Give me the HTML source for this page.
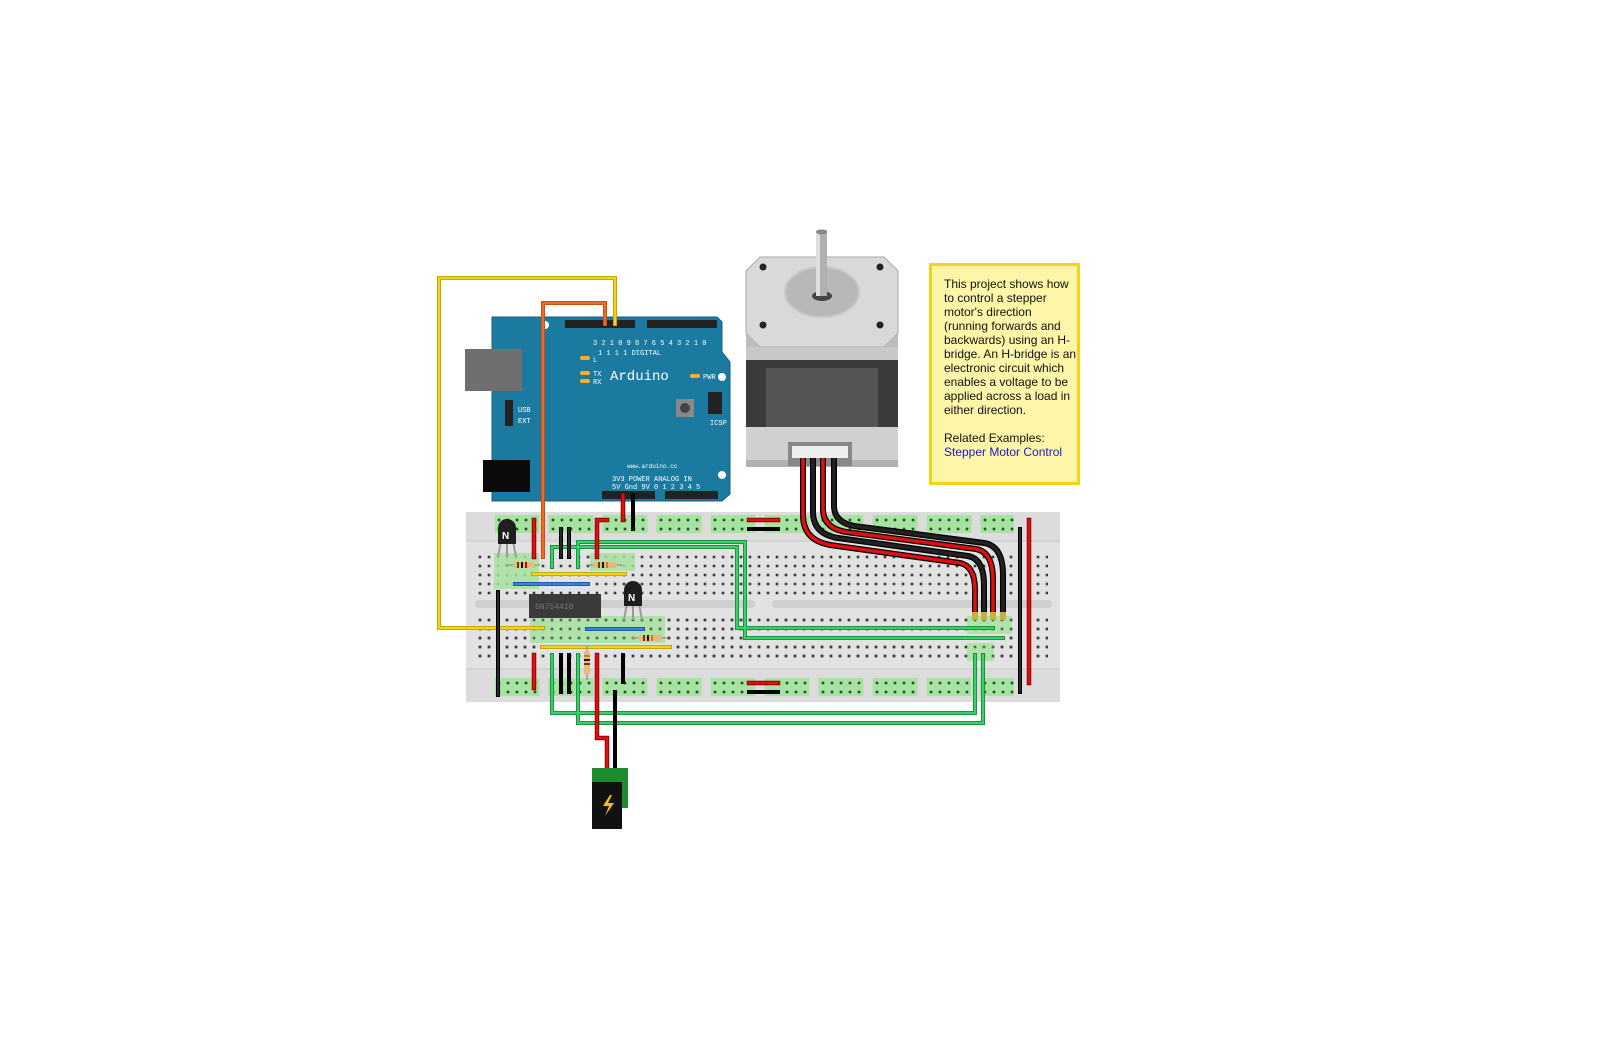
<!DOCTYPE html>
<html><head><meta charset="utf-8"><style>
html,body{margin:0;padding:0;background:#fff;}
svg{display:block;}
.t{font-family:"Liberation Sans",sans-serif;font-size:12px;fill:#111;}
.m{font-family:"Liberation Mono",monospace;fill:#fff;}
</style></head><body>
<svg width="1604" height="1051" viewBox="0 0 1604 1051" xmlns="http://www.w3.org/2000/svg">
<defs>
<pattern id="holes" patternUnits="userSpaceOnUse" x="475.5" y="552.5" width="9" height="9">
<rect x="3.2" y="3.2" width="2.6" height="2.6" fill="#3a3a3a"/></pattern>
<pattern id="rail" patternUnits="userSpaceOnUse" x="494.5" y="515.5" width="54" height="9">
<rect x="0" y="0" width="45" height="9" fill="#a6e3a0"/>
<rect x="3.2" y="3.2" width="2.6" height="2.6" fill="#2d4d2d"/><rect x="12.2" y="3.2" width="2.6" height="2.6" fill="#2d4d2d"/><rect x="21.2" y="3.2" width="2.6" height="2.6" fill="#2d4d2d"/><rect x="30.2" y="3.2" width="2.6" height="2.6" fill="#2d4d2d"/><rect x="39.2" y="3.2" width="2.6" height="2.6" fill="#2d4d2d"/></pattern>
<pattern id="rail2" patternUnits="userSpaceOnUse" x="494.5" y="678.5" width="54" height="9">
<rect x="0" y="0" width="45" height="9" fill="#a6e3a0"/>
<rect x="3.2" y="3.2" width="2.6" height="2.6" fill="#2d4d2d"/><rect x="12.2" y="3.2" width="2.6" height="2.6" fill="#2d4d2d"/><rect x="21.2" y="3.2" width="2.6" height="2.6" fill="#2d4d2d"/><rect x="30.2" y="3.2" width="2.6" height="2.6" fill="#2d4d2d"/><rect x="39.2" y="3.2" width="2.6" height="2.6" fill="#2d4d2d"/></pattern>
</defs>

<!-- Arduino -->
<path d="M492 317 H717 L722 322 V352 L730 362 V494 L722 501 H492 Z" fill="#1a7aa0" stroke="#11607f" stroke-width="1"/>
<rect x="465" y="349" width="57" height="42" fill="#6f6f6f"/>
<rect x="483" y="460" width="47" height="32" fill="#0a0a0a"/>
<rect x="565" y="320" width="70" height="8" fill="#222"/>
<rect x="647" y="320" width="70" height="8" fill="#222"/>
<rect x="602" y="491" width="53" height="8" fill="#222"/>
<rect x="665" y="491" width="53" height="8" fill="#222"/>
<rect x="505" y="400" width="8" height="26" fill="#222"/>
<rect x="676" y="399" width="18" height="18" fill="#888"/><circle cx="685" cy="408" r="5" fill="#444"/>
<rect x="708" y="392" width="14" height="22" fill="#222"/>
<circle cx="722" cy="377" r="4" fill="#fff"/><circle cx="722" cy="475" r="4" fill="#fff"/><circle cx="545" cy="325" r="4" fill="#fff"/>
<rect x="580" y="356" width="10" height="4" rx="2" fill="#f0b030"/>
<rect x="580" y="371" width="10" height="4" rx="2" fill="#f0b030"/>
<rect x="580" y="379" width="10" height="4" rx="2" fill="#f0b030"/>
<rect x="690" y="374" width="10" height="4" rx="2" fill="#f0b030"/>
<text class="m" x="610" y="380" font-size="14">Arduino</text>
<text class="m" x="593" y="345" font-size="7">3 2 1 0 9 8  7 6 5 4 3 2 1 0</text>
<text class="m" x="598" y="355" font-size="7">1 1 1 1  DIGITAL</text>
<text class="m" x="593" y="362" font-size="7">L</text>
<text class="m" x="593" y="376" font-size="7">TX</text><text class="m" x="593" y="384" font-size="7">RX</text>
<text class="m" x="703" y="379" font-size="7">PWR</text>
<text class="m" x="710" y="425" font-size="7">ICSP</text>
<text class="m" x="518" y="412" font-size="7">USB</text><text class="m" x="518" y="423" font-size="7">EXT</text>
<text class="m" x="627" y="468" font-size="6">www.arduino.cc</text>
<text class="m" x="612" y="481" font-size="7">3V3 POWER  ANALOG IN</text>
<text class="m" x="612" y="489" font-size="7">5V Gnd 9V 0 1 2 3 4 5</text>

<!-- Breadboard -->
<rect x="466" y="512" width="594" height="190" fill="#dcdcdc"/>
<rect x="466" y="541" width="594" height="128" fill="#e2e2e2"/>
<line x1="466" y1="541" x2="1060" y2="541" stroke="#c8c8c8"/>
<line x1="466" y1="669" x2="1060" y2="669" stroke="#c8c8c8"/>
<rect x="475" y="600" width="280" height="8" rx="4" fill="#cfcfcf"/>
<rect x="772" y="600" width="280" height="8" rx="4" fill="#cfcfcf"/>
<rect x="494" y="515" width="520" height="18" fill="url(#rail)"/>
<rect x="494" y="678" width="520" height="18" fill="url(#rail2)"/>
<rect x="476" y="553" width="572" height="45" fill="url(#holes)"/>
<rect x="476" y="616" width="572" height="45" fill="url(#holes)"/>
<!-- green highlights -->
<g fill="#a6e3a0" opacity="0.85">
<rect x="494" y="553" width="45" height="36"/><rect x="530" y="616" width="135" height="27"/>
<rect x="590" y="553" width="45" height="18"/><rect x="620" y="616" width="45" height="18"/>
<rect x="967" y="616" width="45" height="18"/><rect x="967" y="643" width="27" height="18"/>
</g>
<rect x="476" y="616" width="572" height="45" fill="url(#holes)" opacity="0.7"/>

<!-- IC -->
<rect x="529" y="594" width="72" height="24" fill="#3a3a3a"/>
<text x="535" y="609" font-family="Liberation Mono,monospace" font-size="8" fill="#777">SN754410</text>

<g fill="none" stroke-linecap="square">
<!-- yellow long loop -->
<path d="M615 324 V278 H439 V628 H543" stroke="#b89a00" stroke-width="4"/>
<path d="M615 324 V278 H439 V628 H543" stroke="#f5d21c" stroke-width="2.4"/>
<!-- orange -->
<path d="M605 324 V303 H543 V557" stroke="#b84a10" stroke-width="4"/>
<path d="M605 324 V303 H543 V557" stroke="#f26a22" stroke-width="2.4"/>
<!-- green wires -->
<g stroke="#1a8a3a" stroke-width="4">
<path d="M552 567 V547 H737 V628 H993"/><path d="M578 567 V542 H745 V638 H1003"/>
<path d="M552 655 V713 H975 V655"/><path d="M578 655 V723 H983 V655"/></g>
<g stroke="#38d26a" stroke-width="2.2">
<path d="M552 567 V547 H737 V628 H993"/><path d="M578 567 V542 H745 V638 H1003"/>
<path d="M552 655 V713 H975 V655"/><path d="M578 655 V723 H983 V655"/></g>
<!-- yellow short -->
<g stroke="#b89a00" stroke-width="4"><path d="M533 574 H625"/><path d="M542 647 H670"/></g>
<g stroke="#f5d21c" stroke-width="2.4"><path d="M533 574 H625"/><path d="M542 647 H670"/></g>
<!-- blue -->
<g stroke="#1c4d9a" stroke-width="4"><path d="M515 584 H588"/><path d="M587 629 H643"/></g>
<g stroke="#3b82e0" stroke-width="2.4"><path d="M515 584 H588"/><path d="M587 629 H643"/></g>
<!-- red -->
<g stroke="#7a0000" stroke-width="4.5">
<path d="M534 520 V557"/><path d="M597 557 V520 H607"/><path d="M623 495 V520"/><path d="M534 655 V688"/>
<path d="M597 655 V738 H607 V767"/><path d="M749 520 H778"/><path d="M749 683 H778"/><path d="M1029 520 V683"/></g>
<g stroke="#e01010" stroke-width="2.8">
<path d="M534 520 V557"/><path d="M597 557 V520 H607"/><path d="M623 495 V520"/><path d="M534 655 V688"/>
<path d="M597 655 V738 H607 V767"/><path d="M749 520 H778"/><path d="M749 683 H778"/><path d="M1029 520 V683"/></g>
<!-- black -->
<g stroke="#000" stroke-width="4">
<path d="M561 529 V557"/><path d="M569 529 V557"/><path d="M633 495 V529"/><path d="M498 592 V695"/>
<path d="M561 655 V692"/><path d="M569 655 V692"/><path d="M623 655 V682"/><path d="M615 692 V767"/>
<path d="M749 529 H778"/><path d="M749 692 H778"/><path d="M1020 529 V692"/></g>
<g stroke="#333" stroke-width="1.6">
<path d="M561 529 V557"/><path d="M569 529 V557"/><path d="M498 592 V695"/><path d="M1020 529 V692"/></g>
</g>

<!-- resistors -->
<g>
<line x1="505" y1="565" x2="540" y2="565" stroke="#999" stroke-width="1.5"/>
<rect x="513" y="562" width="22" height="6" rx="3" fill="#e8b880"/>
<rect x="517" y="562" width="2" height="6" fill="#6b3a10"/><rect x="521" y="562" width="2" height="6" fill="#111"/><rect x="525" y="562" width="2" height="6" fill="#d00"/>
<line x1="588" y1="565" x2="622" y2="565" stroke="#999" stroke-width="1.5"/>
<rect x="593" y="562" width="24" height="6" rx="3" fill="#e8b880"/>
<rect x="598" y="562" width="2" height="6" fill="#6b3a10"/><rect x="602" y="562" width="2" height="6" fill="#111"/><rect x="606" y="562" width="2" height="6" fill="#d08000"/>
<line x1="632" y1="638" x2="668" y2="638" stroke="#999" stroke-width="1.5"/>
<rect x="638" y="635" width="24" height="6" rx="3" fill="#e8b880"/>
<rect x="643" y="635" width="2" height="6" fill="#6b3a10"/><rect x="647" y="635" width="2" height="6" fill="#111"/><rect x="651" y="635" width="2" height="6" fill="#d08000"/>
<line x1="587" y1="646" x2="587" y2="680" stroke="#999" stroke-width="1.5"/>
<rect x="584" y="650" width="6" height="25" rx="3" fill="#e8b880"/>
<rect x="584" y="655" width="6" height="2" fill="#d08000"/><rect x="584" y="659" width="6" height="2" fill="#111"/><rect x="584" y="663" width="6" height="2" fill="#6b3a10"/>
</g>

<!-- transistors -->
<g>
<path d="M501 541 L498 557 M507 541 V557 M513 541 L516 557" stroke="#9a9a9a" stroke-width="2" fill="none"/>
<path d="M498 544 V528 A9 9 0 0 1 516 528 V544 Z" fill="#1e1e1e"/>
<text x="502" y="539" font-family="Liberation Sans,sans-serif" font-weight="bold" font-size="10" fill="#fff">N</text>
<path d="M627 603 L624 620 M633 603 V620 M639 603 L642 620" stroke="#9a9a9a" stroke-width="2" fill="none"/>
<path d="M624 606 V590 A9 9 0 0 1 642 590 V606 Z" fill="#1e1e1e"/>
<text x="628" y="601" font-family="Liberation Sans,sans-serif" font-weight="bold" font-size="10" fill="#fff">N</text>
</g>

<!-- Motor -->
<g>
<path d="M760 257 H884 L898 271 V333 L884 347 H760 L746 333 V271 Z" fill="#d9d9d9" stroke="#aaa"/>
<path d="M746 333 L760 347 H884 L898 333 V350 H746 Z" fill="#bdbdbd"/>
<rect x="746" y="347" width="152" height="120" fill="#c8c8c8"/>
<rect x="746" y="360" width="152" height="67" fill="#3a3a3a"/>
<rect x="766" y="368" width="112" height="59" fill="#555"/>
<rect x="746" y="427" width="152" height="40" fill="#d0d0d0"/>
<rect x="746" y="460" width="152" height="7" fill="#b0b0b0"/>
<ellipse cx="822" cy="292" rx="37" ry="25" fill="#b8b8b8" stroke="#c8c8c8" stroke-width="2"/>
<ellipse cx="822" cy="296" rx="10" ry="5" fill="#444"/>
<rect x="816" y="230" width="11" height="66" fill="#b0b0b0"/>
<rect x="816" y="230" width="4" height="66" fill="#ddd"/>
<ellipse cx="821.5" cy="232" rx="5.5" ry="2.5" fill="#888"/>
<circle cx="763" cy="267" r="3.5" fill="#222"/><circle cx="880" cy="267" r="3.5" fill="#222"/>
<circle cx="763" cy="325" r="3.5" fill="#222"/><circle cx="880" cy="325" r="3.5" fill="#222"/>
<rect x="788" y="442" width="64" height="24" fill="#888"/>
<rect x="792" y="446" width="56" height="12" fill="#eee"/>
</g>
<!-- motor wires -->
<g fill="none">
<path d="M803 458 V515 Q803 540 830 545 L960 563 Q975 566 975 590 V616" stroke="#000" stroke-width="6"/>
<path d="M803 458 V515 Q803 540 830 545 L960 563 Q975 566 975 590 V616" stroke="#e01010" stroke-width="3.5"/>
<path d="M813 458 V512 Q813 534 838 538 L968 556 Q984 559 984 585 V616" stroke="#000" stroke-width="6"/>
<path d="M813 458 V512 Q813 534 838 538 L968 556 Q984 559 984 585 V616" stroke="#222" stroke-width="3.5"/>
<path d="M823 458 V509 Q823 528 846 532 L976 549 Q993 552 993 580 V616" stroke="#000" stroke-width="6"/>
<path d="M823 458 V509 Q823 528 846 532 L976 549 Q993 552 993 580 V616" stroke="#e01010" stroke-width="3.5"/>
<path d="M834 458 V506 Q834 522 854 526 L984 543 Q1003 546 1003 575 V616" stroke="#000" stroke-width="6"/>
<path d="M834 458 V506 Q834 522 854 526 L984 543 Q1003 546 1003 575 V616" stroke="#222" stroke-width="3.5"/>
</g>
<g fill="#c8b040"><rect x="972" y="612" width="6" height="8"/><rect x="981" y="612" width="6" height="8"/><rect x="990" y="612" width="6" height="8"/><rect x="1000" y="612" width="6" height="8"/></g>

<!-- power jack -->
<rect x="592" y="768" width="36" height="40" fill="#1f8a2e"/>
<rect x="592" y="782" width="30" height="47" fill="#111"/>
<path d="M610 795 L603 806 H609 L605 816 L614 803 H608 L612 795 Z" fill="#f0c020"/>

<!-- Text box -->
<rect x="930.5" y="264.5" width="148" height="219" fill="#fdf6a8" stroke="#f2d21a" stroke-width="3"/>
<text class="t">
<tspan x="944" y="288">This project shows how</tspan>
<tspan x="944" y="302">to control a stepper</tspan>
<tspan x="944" y="316">motor's direction</tspan>
<tspan x="944" y="330">(running forwards and</tspan>
<tspan x="944" y="344">backwards) using an H-</tspan>
<tspan x="944" y="358">bridge. An H-bridge is an</tspan>
<tspan x="944" y="372">electronic circuit which</tspan>
<tspan x="944" y="386">enables a voltage to be</tspan>
<tspan x="944" y="400">applied across a load in</tspan>
<tspan x="944" y="414">either direction.</tspan>
<tspan x="944" y="442">Related Examples:</tspan>
<tspan x="944" y="456" fill="#1a1acc">Stepper Motor Control</tspan>
</text>
</svg>
</body></html>
